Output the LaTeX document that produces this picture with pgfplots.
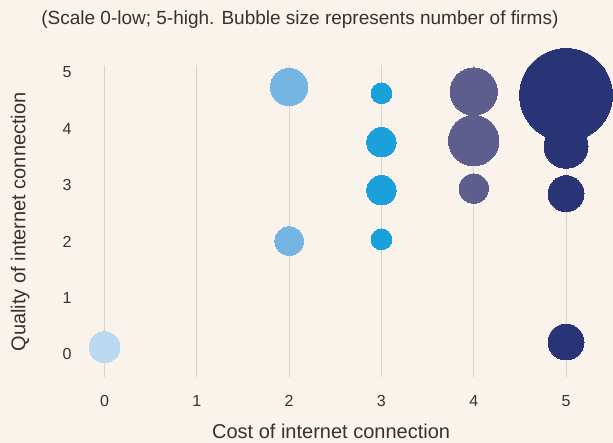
\documentclass[border=0pt]{standalone}
\usepackage{fontspec}
\setmainfont{Liberation Sans}
\usepackage{pgfplots}
\pgfplotsset{compat=1.18}
\definecolor{bg}{HTML}{FAF3EC}
\definecolor{gridc}{HTML}{D6D3D0}
\definecolor{txt}{HTML}{333333}
\definecolor{czero}{HTML}{BBD9F0}
\definecolor{ctwo}{HTML}{74B5E4}
\definecolor{cthree}{HTML}{1AA0DB}
\definecolor{cfour}{HTML}{5E5E8E}
\definecolor{cfive}{HTML}{283476}
\pgfplotsset{bubble/.style={only marks, scatter, mark=*, color=#1,
  mark options={draw=#1, fill=#1, line width=0pt},
  scatter/use mapped color={draw=#1, fill=#1},
  visualization depends on={10.42*sqrt(\thisrow{firms}) \as \rad},
  scatter/@pre marker code/.append style={/tikz/mark size=\rad}}}
\begin{document}
\begin{tikzpicture}
\fill[bg] (0,0) rectangle (613bp,443bp);
\begin{axis}[
  at={(75bp,66bp)}, anchor=south west,
  scale only axis, width=538bp, height=312bp,
  xmin=-0.32, xmax=5.509, ymin=-0.4, ymax=5.13,
  clip=false,
  axis line style={draw=none},
  major tick length=0pt,
  xtick={0,1,2,3,4,5}, ytick={0,1,2,3,4,5},
  xmajorgrids, ymajorgrids=false,
  grid style={draw=gridc, line width=1bp},
  tick label style={font=\fontsize{16bp}{19bp}\selectfont, text=txt},
  /pgf/number format/assume math mode=true,
  xticklabel style={yshift=-14.5bp},
  xlabel={Cost of internet connection},
  ylabel={Quality of internet connection},
  xlabel style={at={(axis description cs:0.476,-0.175)}, anchor=center, font=\fontsize{20bp}{24bp}\selectfont, text=txt},
  ylabel style={at={(axis description cs:-0.102,0.497)}, anchor=center, font=\fontsize{20bp}{24bp}\selectfont, text=txt},
  title={(Scale 0-low; 5-high. Bubble size represents number of firms)},
  title style={at={(axis description cs:0.418,1.126)}, anchor=center, yshift=0pt, font=\fontsize{19bp}{23bp}\selectfont, text=txt},
]
\addplot[bubble=czero] table {
x y firms
0 0.13 2.2
};
\addplot[bubble=ctwo] table {
x y firms
2 4.74 3.25
2 2.01 1.9
};
\addplot[bubble=cthree] table {
x y firms
3 4.63 1.0
3 3.76 2.0
3 2.91 2.0
3 2.04 1.0
};
\addplot[bubble=cfour] table {
x y firms
4 4.66 5.2
4 3.79 5.9
4 2.94 2.0
};
\addplot[bubble=cfive] table {
x y firms
5 4.60 20
5 3.69 4.5
5 2.85 3.0
5 0.22 3.0
};
\end{axis}
\pgfresetboundingbox
\path[use as bounding box] (0,0) rectangle (613bp,443bp);
\end{tikzpicture}
\end{document}
